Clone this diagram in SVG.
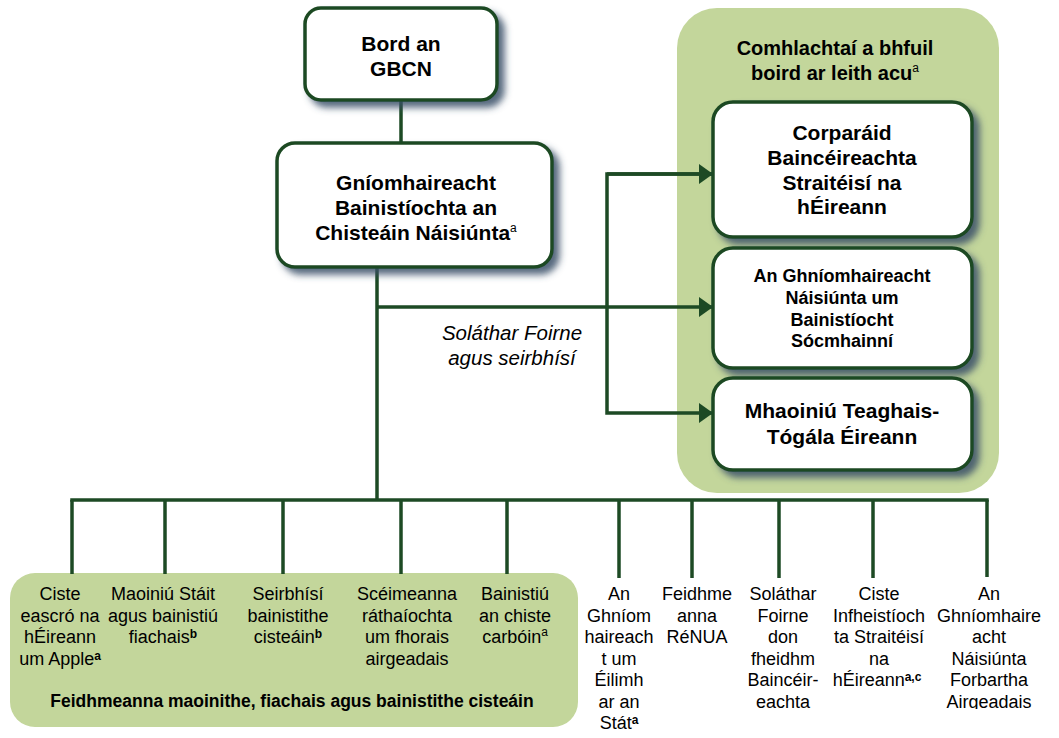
<svg xmlns="http://www.w3.org/2000/svg" width="1059" height="738" viewBox="0 0 1059 738">
<defs>
<filter id="sh" x="-10%" y="-10%" width="130%" height="140%">
<feDropShadow dx="6" dy="6" stdDeviation="3.5" flood-color="#3b5068" flood-opacity="0.85"/>
</filter>
<marker id="arr" viewBox="0 0 14 20" refX="14" refY="10" markerWidth="14" markerHeight="20" markerUnits="userSpaceOnUse" orient="auto">
<path d="M0,0 L14,10 L0,20 Z" fill="#1d4a24"/>
</marker>
<clipPath id="clipLast"><rect x="920" y="560" width="139" height="149"/></clipPath>
<style>
.box{fill:#ffffff;stroke:#1d4a24;stroke-width:3.5;filter:url(#sh)}
.grp{fill:#c3d69b}
.ln{fill:none;stroke:#1d4a24;stroke-width:3.5}
text{font-family:"Liberation Sans",Arial,sans-serif;fill:#000;text-anchor:middle}
.b21{font-size:21px;font-weight:bold}
.b20{font-size:20px;font-weight:bold}
.b18{font-size:18px;font-weight:bold}
.b17{font-size:17.5px;font-weight:bold}
.r18{font-size:18px}
.it{font-size:20.5px;font-style:italic}
.sup{font-size:12px;font-weight:normal}
.supb{font-size:12px;font-weight:bold}
</style>
</defs>

<g id="group-separate-boards">
<rect class="grp" x="677" y="8" width="322" height="485" rx="40"/>
<text class="b20" x="835" y="55">Comhlachtaí a bhfuil</text>
<text class="b20" x="835" y="80">boird ar leith acu<tspan class="sup" dy="-8">a</tspan></text>
</g>

<g id="group-funding">
<rect class="grp" x="10" y="573" width="568" height="154" rx="25"/>
<text class="b17" x="292" y="707">Feidhmeanna maoinithe, fiachais agus bainistithe cisteáin</text>
</g>

<g id="connectors">
<line class="ln" x1="401" y1="100" x2="401" y2="143"/>
<line class="ln" x1="377" y1="267" x2="377" y2="500"/>
<line class="ln" x1="377" y1="307" x2="713" y2="307" marker-end="url(#arr)"/>
<polyline class="ln" points="713,174 607,174 607,413 713,413" marker-end="url(#arr)"/>
<path d="M607,174 L713,174" class="ln" marker-end="url(#arr)"/>
<line class="ln" x1="70.25" y1="500" x2="988.75" y2="500"/>
<line class="ln" x1="72" y1="500" x2="72" y2="574"/>
<line class="ln" x1="165" y1="500" x2="165" y2="574"/>
<line class="ln" x1="283" y1="500" x2="283" y2="574"/>
<line class="ln" x1="401" y1="500" x2="401" y2="574"/>
<line class="ln" x1="507" y1="500" x2="507" y2="574"/>
<line class="ln" x1="619" y1="500" x2="619" y2="578"/>
<line class="ln" x1="692" y1="500" x2="692" y2="578"/>
<line class="ln" x1="779" y1="500" x2="779" y2="578"/>
<line class="ln" x1="873" y1="500" x2="873" y2="578"/>
<line class="ln" x1="987" y1="500" x2="987" y2="577"/>
<text class="it" x="512" y="340">Soláthar Foirne</text>
<text class="it" x="512" y="365">agus seirbhísí</text>
</g>

<g id="node-bord">
<rect class="box" x="305" y="8" width="192" height="92" rx="16"/>
<text class="b21" x="401" y="51">Bord an</text>
<text class="b21" x="401" y="76">GBCN</text>
</g>

<g id="node-ntma">
<rect class="box" x="277" y="143" width="275" height="124" rx="18"/>
<text class="b21" x="416" y="190">Gníomhaireacht</text>
<text class="b21" x="416" y="215">Bainistíochta an</text>
<text class="b21" x="416" y="240">Chisteáin Náisiúnta<tspan class="sup" dy="-8">a</tspan></text>
</g>

<g id="node-sbci">
<rect class="box" x="713" y="102" width="259" height="135" rx="20"/>
<text class="b21" x="842" y="140">Corparáid</text>
<text class="b21" x="842" y="165">Baincéireachta</text>
<text class="b21" x="842" y="190">Straitéisí na</text>
<text class="b21" x="842" y="214">hÉireann</text>
</g>

<g id="node-nama">
<rect class="box" x="713" y="248" width="259" height="120" rx="20"/>
<text class="b18" x="842" y="282">An Ghníomhaireacht</text>
<text class="b18" x="842" y="304">Náisiúnta um</text>
<text class="b18" x="842" y="326">Bainistíocht</text>
<text class="b18" x="842" y="347">Sócmhainní</text>
</g>

<g id="node-htb">
<rect class="box" x="713" y="378" width="259" height="92" rx="20"/>
<text class="b21" x="842" y="418">Mhaoiniú Teaghais-</text>
<text class="b21" x="842" y="444">Tógála Éireann</text>
</g>

<g id="node-apple">
<text class="r18" x="60" y="600">Ciste</text>
<text class="r18" x="60" y="621.5">eascró na</text>
<text class="r18" x="60" y="643">hÉireann</text>
<text class="r18" x="60" y="664.5">um Apple<tspan class="supb" dy="-5">a</tspan></text>
</g>
<g id="node-debt">
<text class="r18" x="163" y="600">Maoiniú Stáit</text>
<text class="r18" x="163" y="621.5">agus bainistiú</text>
<text class="r18" x="163" y="643">fiachais<tspan class="supb" dy="-5">b</tspan></text>
</g>
<g id="node-fund">
<text class="r18" x="288" y="600">Seirbhísí</text>
<text class="r18" x="288" y="621.5">bainistithe</text>
<text class="r18" x="288" y="643">cisteáin<tspan class="supb" dy="-5">b</tspan></text>
</g>
<g id="node-guarantee">
<text class="r18" x="407" y="600">Scéimeanna</text>
<text class="r18" x="407" y="621.5">ráthaíochta</text>
<text class="r18" x="407" y="643">um fhorais</text>
<text class="r18" x="407" y="664.5">airgeadais</text>
</g>
<g id="node-carbon">
<text class="r18" x="515" y="600">Bainistiú</text>
<text class="r18" x="515" y="621.5">an chiste</text>
<text class="r18" x="515" y="643">carbóin<tspan class="sup" dy="-7">a</tspan></text>
</g>
<g id="node-sca">
<text class="r18" x="619" y="600">An</text>
<text class="r18" x="619" y="621.5">Ghníom</text>
<text class="r18" x="619" y="643">haireach</text>
<text class="r18" x="619" y="664.5">t um</text>
<text class="r18" x="619" y="686">Éilimh</text>
<text class="r18" x="619" y="707.5">ar an</text>
<text class="r18" x="619" y="729">Stát<tspan class="supb" dy="-5">a</tspan></text>
</g>
<g id="node-renua">
<text class="r18" x="697" y="600">Feidhme</text>
<text class="r18" x="697" y="621.5">anna</text>
<text class="r18" x="697" y="643">RéNUA</text>
</g>
<g id="node-sbci-staff">
<text class="r18" x="783" y="600">Soláthar</text>
<text class="r18" x="783" y="621.5">Foirne</text>
<text class="r18" x="783" y="643">don</text>
<text class="r18" x="783" y="664.5">fheidhm</text>
<text class="r18" x="783" y="686">Baincéir-</text>
<text class="r18" x="783" y="707.5">eachta</text>
</g>
<g id="node-isif">
<text class="r18" x="879" y="600">Ciste</text>
<text class="r18" x="879" y="621.5">Infheistíoch</text>
<text class="r18" x="879" y="643">ta Straitéisí</text>
<text class="r18" x="879" y="664.5">na</text>
<text class="r18" x="877" y="686">hÉireann<tspan class="supb" dy="-5">a,c</tspan></text>
</g>
<g id="node-ndfa" clip-path="url(#clipLast)">
<text class="r18" x="989" y="600">An</text>
<text class="r18" x="989" y="621.5">Ghníomhaire</text>
<text class="r18" x="989" y="643">acht</text>
<text class="r18" x="989" y="664.5">Náisiúnta</text>
<text class="r18" x="989" y="686">Forbartha</text>
<text class="r18" x="989" y="707.5">Airgeadais</text>
</g>
</svg>
